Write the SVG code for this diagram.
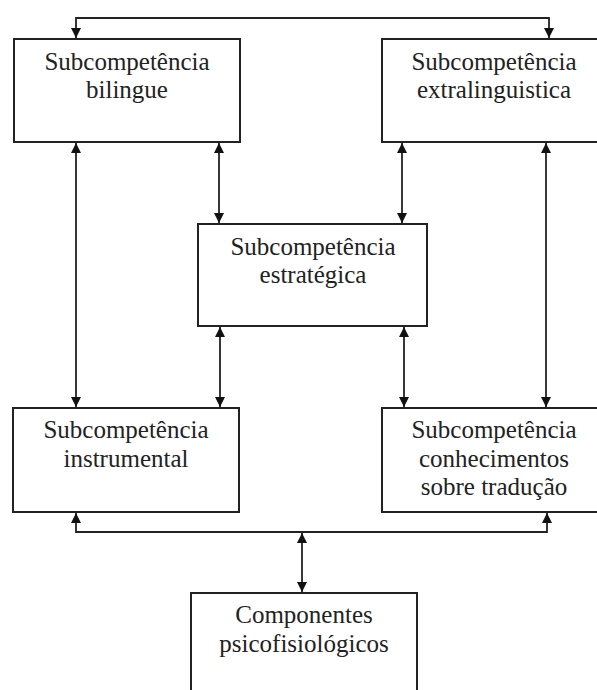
<svg xmlns="http://www.w3.org/2000/svg" width="597" height="690" viewBox="0 0 597 690">
<style>
.box{fill:#fff;stroke:#222;stroke-width:2}
.t{font-family:"Liberation Serif","Times New Roman",serif;font-size:25px;fill:#222;text-anchor:middle}
.c{fill:none;stroke:#222;stroke-width:1.8}
</style>
<defs>
<marker id="ah" viewBox="0 0 10 10" refX="10" refY="5" markerWidth="12" markerHeight="10" markerUnits="userSpaceOnUse" orient="auto-start-reverse">
<path d="M0,0 L10,5 L0,10 z" fill="#111"/>
</marker>
</defs>
<rect width="597" height="690" fill="#fff"/>
<g id="connectors">
<path class="c" d="M76,38 V18 H549 V38" marker-start="url(#ah)" marker-end="url(#ah)"/>
<path class="c" d="M76,143 V407" marker-start="url(#ah)" marker-end="url(#ah)"/>
<path class="c" d="M219,143 V223" marker-start="url(#ah)" marker-end="url(#ah)"/>
<path class="c" d="M402,143 V223" marker-start="url(#ah)" marker-end="url(#ah)"/>
<path class="c" d="M546,143 V407" marker-start="url(#ah)" marker-end="url(#ah)"/>
<path class="c" d="M220,327 V407" marker-start="url(#ah)" marker-end="url(#ah)"/>
<path class="c" d="M404,327 V407" marker-start="url(#ah)" marker-end="url(#ah)"/>
<path class="c" d="M76,513 V532 H547 V513" marker-start="url(#ah)" marker-end="url(#ah)"/>
<path class="c" d="M302,533 V592" marker-start="url(#ah)" marker-end="url(#ah)"/>
</g>
<g id="bilingue">
<rect class="box" x="14" y="39" width="226" height="103"/>
<text class="t" x="127" y="70">Subcompetência</text>
<text class="t" x="127" y="98">bilingue</text>
</g>
<g id="extralinguistica">
<rect class="box" x="382" y="39" width="225" height="103"/>
<text class="t" x="494" y="70">Subcompetência</text>
<text class="t" x="494" y="98">extralinguistica</text>
</g>
<g id="estrategica">
<rect class="box" x="198" y="224" width="229" height="102"/>
<text class="t" x="313" y="255">Subcompetência</text>
<text class="t" x="313" y="283">estratégica</text>
</g>
<g id="instrumental">
<rect class="box" x="13" y="408" width="226" height="104"/>
<text class="t" x="126" y="438">Subcompetência</text>
<text class="t" x="126" y="467">instrumental</text>
</g>
<g id="conhecimentos">
<rect class="box" x="382" y="408" width="225" height="104"/>
<text class="t" x="494" y="438">Subcompetência</text>
<text class="t" x="494" y="467">conhecimentos</text>
<text class="t" x="494" y="495">sobre tradução</text>
</g>
<g id="psicofisiologicos">
<rect class="box" x="191" y="593" width="226" height="110"/>
<text class="t" x="304" y="623">Componentes</text>
<text class="t" x="304" y="652">psicofisiológicos</text>
</g>
</svg>
